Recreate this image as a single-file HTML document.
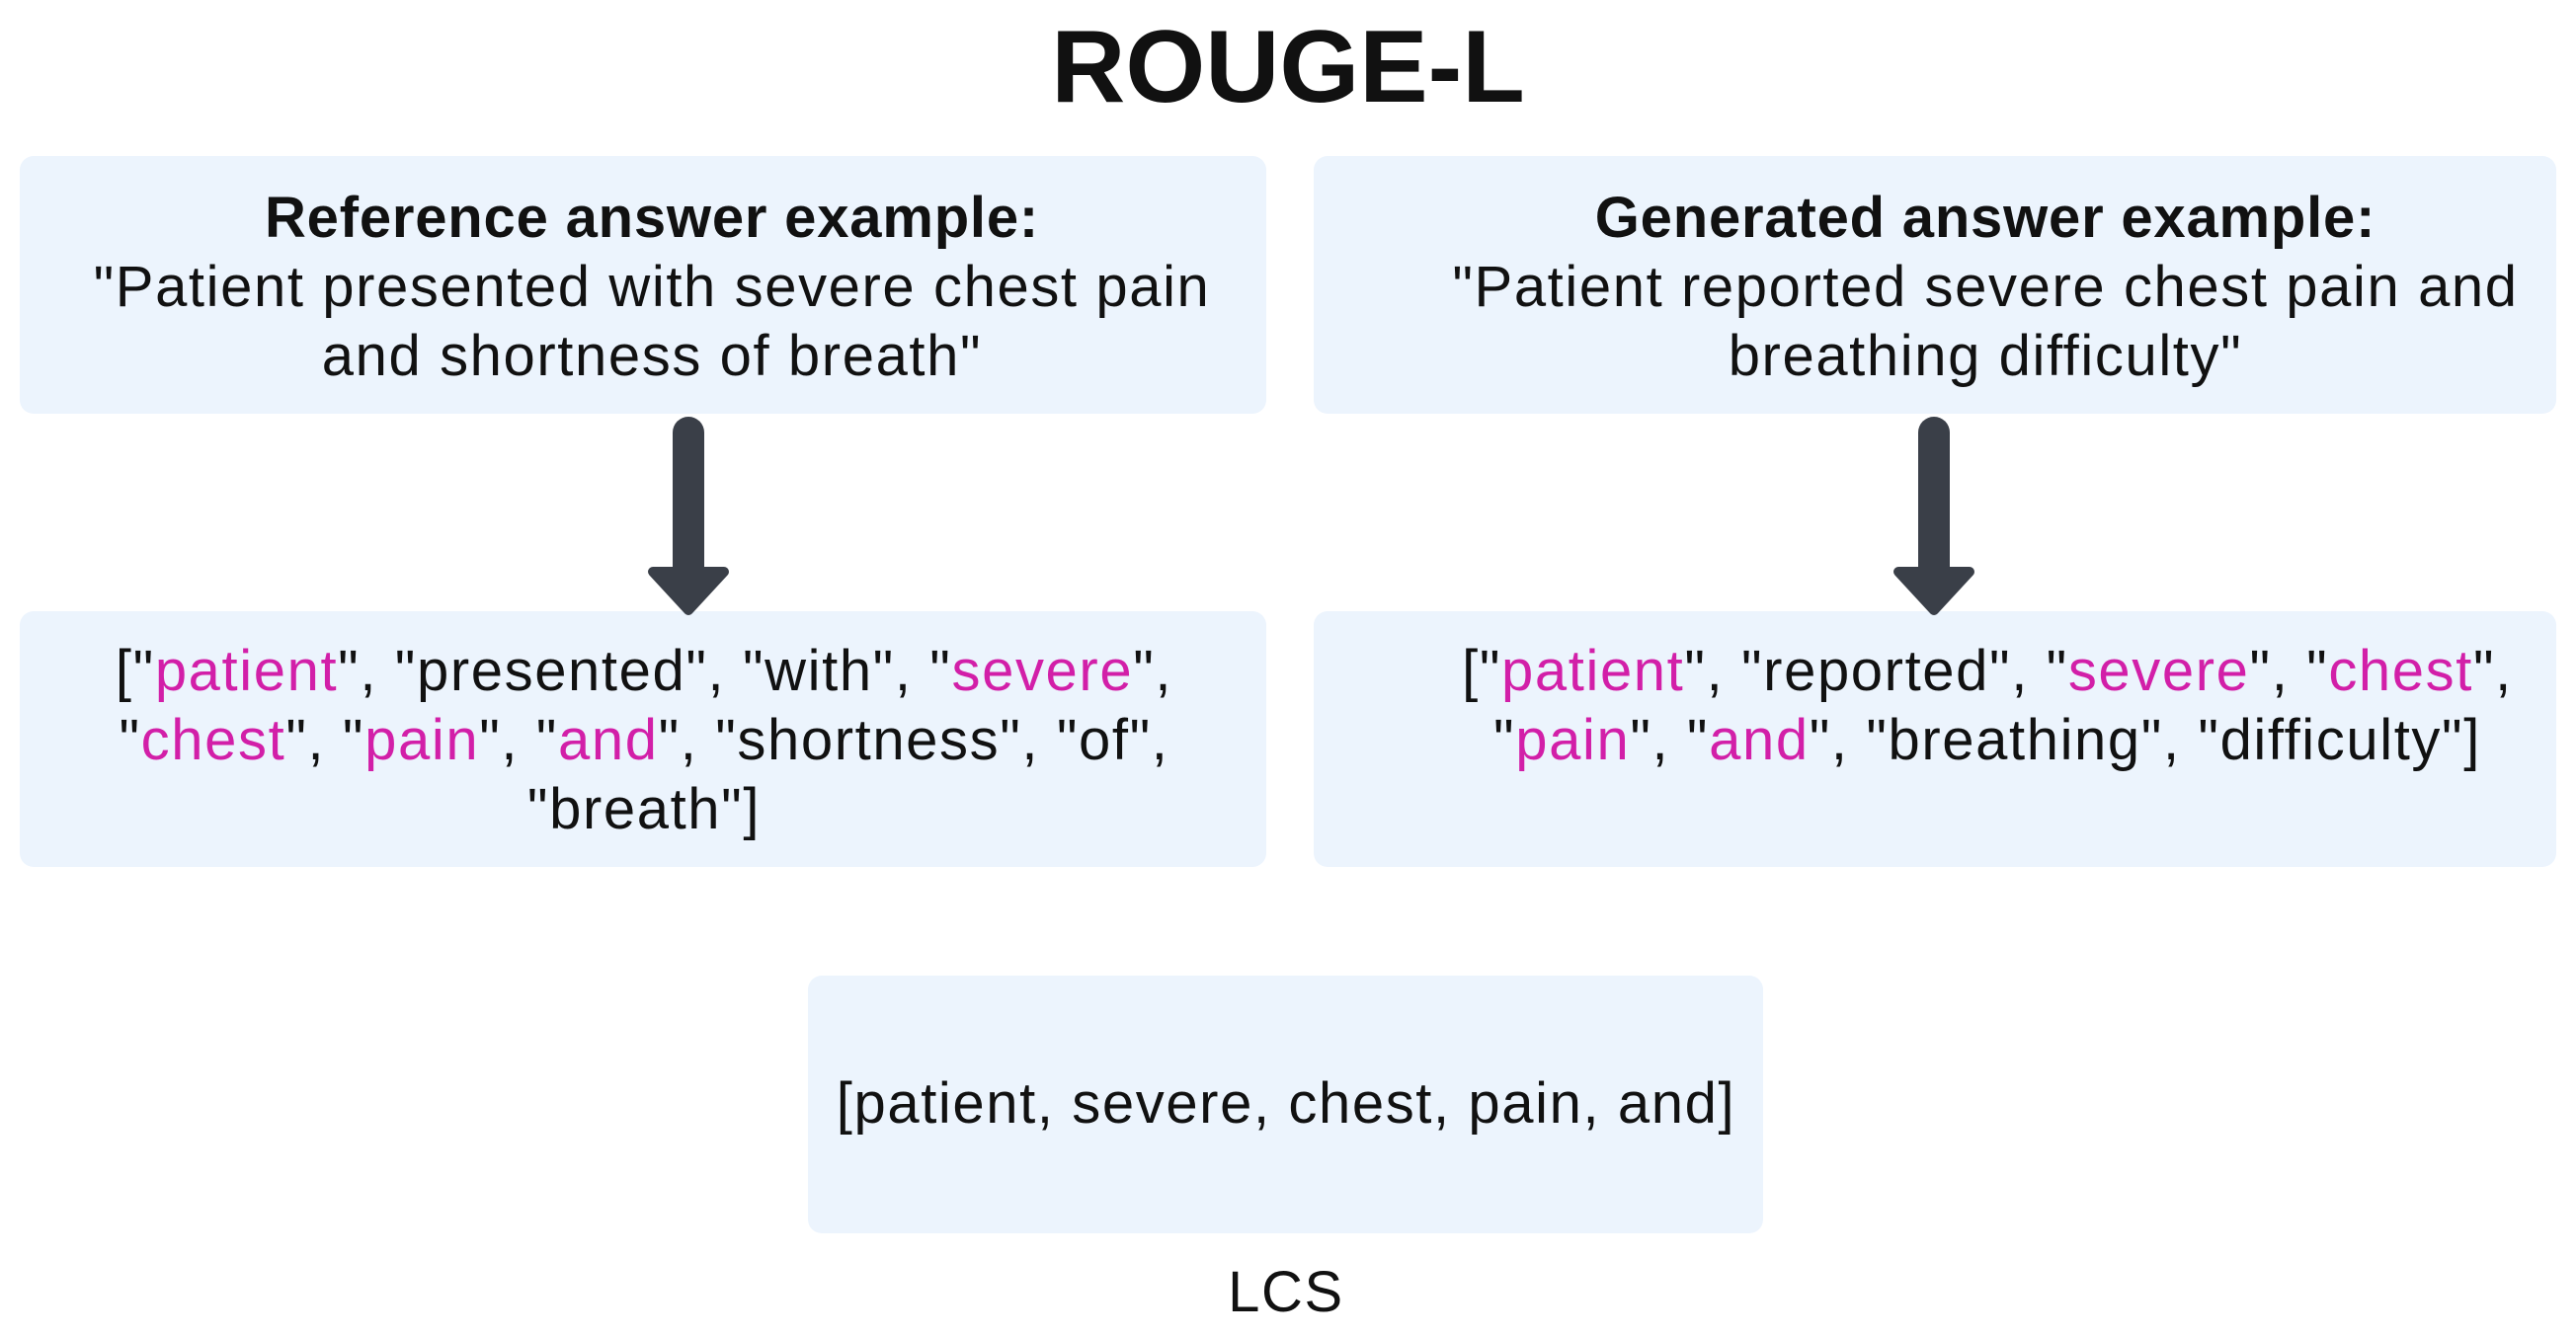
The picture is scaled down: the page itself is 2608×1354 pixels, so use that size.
<!DOCTYPE html>
<html><head><meta charset="utf-8"><style>
body{margin:0;width:2608px;height:1354px;background:#fff;position:relative;overflow:hidden;font-family:"Liberation Sans",sans-serif;color:#111}
.box{position:absolute;background:#ecf4fd;border-radius:14px}
.t{position:absolute;white-space:nowrap;transform:translate(-50%,-50%);font-size:58px;letter-spacing:1.6px;line-height:70px;text-align:center}
.t b{letter-spacing:0.8px}
.m{color:#d21fa8}
</style></head><body>
<div class="t" style="left:1304px;top:68px;font-size:104px;font-weight:bold;line-height:120px;letter-spacing:0">ROUGE-L</div>
<div class="box" style="left:20px;top:158px;width:1262px;height:261px"></div>
<div class="box" style="left:1330px;top:158px;width:1258px;height:261px"></div>
<div class="box" style="left:20px;top:619px;width:1262px;height:259px"></div>
<div class="box" style="left:1330px;top:619px;width:1258px;height:259px"></div>
<div class="box" style="left:818px;top:988px;width:967px;height:261px"></div>
<div class="t" style="left:660px;top:291px"><b>Reference answer example:</b><br>"Patient presented with severe chest pain<br>and shortness of breath"</div>
<div class="t" style="left:2010px;top:291px"><b>Generated answer example:</b><br>"Patient reported severe chest pain and<br>breathing difficulty"</div>
<div class="t" style="left:652px;top:750px">["<span class="m">patient</span>", "presented", "with", "<span class="m">severe</span>",<br>"<span class="m">chest</span>", "<span class="m">pain</span>", "<span class="m">and</span>", "shortness", "of",<br>"breath"]</div>
<div class="t" style="left:2012px;top:715px">["<span class="m">patient</span>", "reported", "<span class="m">severe</span>", "<span class="m">chest</span>",<br>"<span class="m">pain</span>", "<span class="m">and</span>", "breathing", "difficulty"]</div>
<div class="t" style="left:1302px;top:1118px">[patient, severe, chest, pain, and]</div>
<div class="t" style="left:1302px;top:1309px">LCS</div>
<svg width="2608" height="1354" style="position:absolute;left:0;top:0">
<g fill="#3a3f48" stroke="#3a3f48" stroke-linejoin="round">
<line x1="697" y1="438" x2="697" y2="585" stroke-width="32" stroke-linecap="round"/>
<polygon points="661,579 733,579 697,618" stroke-width="10"/>
<line x1="1958" y1="438" x2="1958" y2="585" stroke-width="32" stroke-linecap="round"/>
<polygon points="1922,579 1994,579 1958,618" stroke-width="10"/>
</g></svg>
</body></html>
